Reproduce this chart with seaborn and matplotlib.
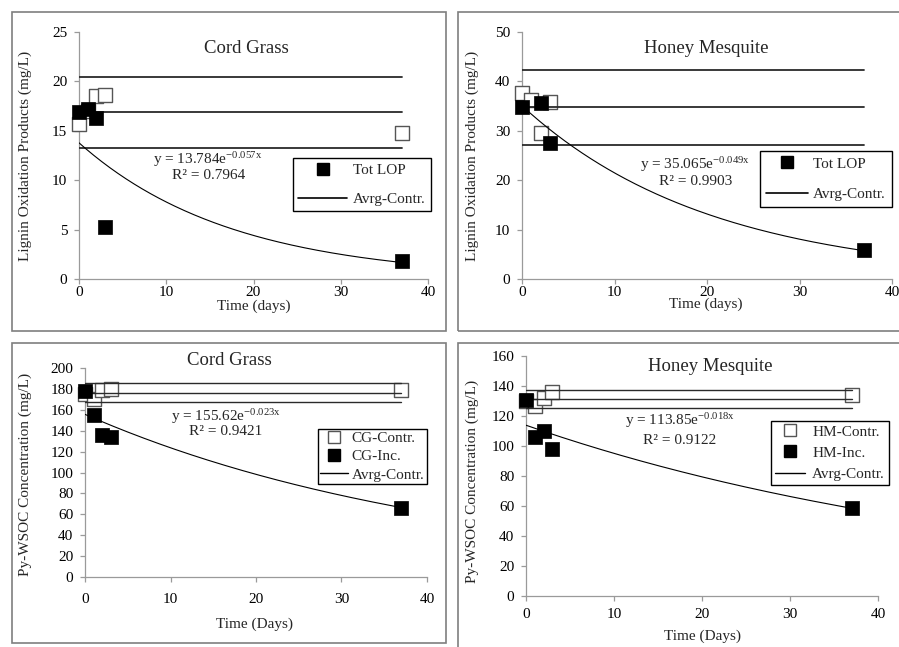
import numpy as np
import pandas as pd
import matplotlib
matplotlib.use("Agg")
import matplotlib.pyplot as plt
import seaborn as sns
from matplotlib.lines import Line2D
from matplotlib.patches import Rectangle

# ---------------- data ----------------
# Top-left: Cord Grass, lignin oxidation products
cg_lop_ctrl_t = [0, 1, 2, 3, 37]
cg_lop_ctrl = [15.7, 17.0, 18.5, 18.6, 14.8]
cg_lop_inc_t = [0, 1, 2, 3, 37]
cg_lop_inc = [16.9, 17.2, 16.3, 5.3, 1.8]
cg_lop_levels = [20.4, 16.9, 13.3]
cg_lop_fit_a, cg_lop_fit_b, cg_lop_r2 = 13.784, -0.057, 0.7964

# Top-right: Honey Mesquite, lignin oxidation products
hm_lop_ctrl_t = [0, 1, 2, 3]
hm_lop_ctrl = [37.6, 36.3, 29.5, 35.8]
hm_lop_inc_t = [0, 2, 3, 37]
hm_lop_inc = [34.8, 35.6, 27.5, 5.8]
hm_lop_levels = [42.3, 34.8, 27.1]
hm_lop_fit_a, hm_lop_fit_b, hm_lop_r2 = 35.065, -0.049, 0.9903

# Bottom-left: Cord Grass, Py-WSOC
cg_wsoc_t = [0, 1, 2, 3, 37]
cg_wsoc_ctrl = [175, 170, 179, 180, 179]
cg_wsoc_inc = [178, 155, 136, 134, 66]
cg_wsoc_levels = [185.5, 176.5, 167.5]
cg_wsoc_fit_a, cg_wsoc_fit_b, cg_wsoc_r2 = 155.62, -0.023, 0.9421

# Bottom-right: Honey Mesquite, Py-WSOC
hm_wsoc_t = [0, 1, 2, 3, 37]
hm_wsoc_ctrl = [130, 127, 132, 136, 134]
hm_wsoc_inc = [131, 106, 110, 98, 59]
hm_wsoc_levels = [137.5, 131.5, 125.5]
hm_wsoc_fit_a, hm_wsoc_fit_b, hm_wsoc_r2 = 113.85, -0.018, 0.9122

x_ticks = [0, 10, 20, 30, 40]

# ---------------- style ----------------
sns.set_theme(style="white")
plt.rcParams["font.family"] = ["Liberation Serif", "DejaVu Serif"]
plt.rcParams["mathtext.fontset"] = "custom"
plt.rcParams["mathtext.rm"] = "Liberation Serif"
plt.rcParams["mathtext.it"] = "Liberation Serif:italic"
plt.rcParams["mathtext.default"] = "regular"

W, H = 899, 647
fig = plt.figure(figsize=(W / 100, H / 100), dpi=100)
fig.patch.set_facecolor("white")

FS = 11
SPINE = "#9a9a9a"


def px_axes(l, r, t, b):
    return fig.add_axes([l / W, 1 - b / H, (r - l) / W, (b - t) / H])


def frame(l, t, r, b):
    fig.patches.append(Rectangle((l / W, 1 - b / H), (r - l) / W, (b - t) / H,
                                 transform=fig.transFigure, fill=False,
                                 edgecolor="#7f7f7f", linewidth=1.2, zorder=0))


def panel(ax, ctrl_t, ctrl, inc_t, inc, levels, fa, fb, r2, ymax, ystep,
          title, title_xy, eq_xy, r2_xy, xlabel, xlabel_xy, ylabel, ylabel_xy,
          xpad, hl_lw):
    # control (open squares)
    sns.scatterplot(x=ctrl_t, y=ctrl, marker="s", s=95, color="white",
                    edgecolor="#555555", linewidth=1.0, ax=ax, zorder=3,
                    clip_on=False)
    # average control lines
    span = [ctrl_t[0], 37]
    for lv in levels:
        sns.lineplot(x=span, y=[lv, lv], color="#2a2a2a", linewidth=hl_lw,
                     ax=ax, zorder=4)
    # exponential trend line (from the displayed equation)
    tf = np.linspace(0, 37, 200)
    sns.lineplot(x=tf, y=fa * np.exp(fb * tf), color="black", linewidth=0.8,
                 ax=ax, zorder=4)
    # incubated (filled squares)
    sns.scatterplot(x=inc_t, y=inc, marker="s", s=95, color="black",
                    edgecolor="black", linewidth=0.5, ax=ax, zorder=5,
                    clip_on=False)

    ax.set_xlim(0, 40)
    ax.set_ylim(0, ymax)
    ax.set_xticks(x_ticks)
    yt = np.arange(0, ymax + 0.1, ystep)
    ax.set_yticks(yt)
    ax.set_yticklabels([f"{int(v)}" for v in yt])
    for s in ["top", "right"]:
        ax.spines[s].set_visible(False)
    for s in ["left", "bottom"]:
        ax.spines[s].set_color(SPINE)
        ax.spines[s].set_linewidth(0.9)
    ax.tick_params(axis="both", which="major", direction="out", length=3.5,
                   width=0.9, color=SPINE, labelsize=FS, labelcolor="black",
                   left=True, bottom=True)
    ax.tick_params(axis="x", pad=xpad)
    ax.tick_params(axis="y", pad=5)
    ax.set_facecolor("none")

    ax.text(title_xy[0], title_xy[1], title, transform=ax.transAxes,
            ha="center", va="center", fontsize=13.5)
    ax.text(eq_xy[0], eq_xy[1], f"y = {fa}e$^{{{fb}x}}$",
            transform=ax.transAxes, ha="center", va="center", fontsize=FS)
    ax.text(r2_xy[0], r2_xy[1], f"R\u00b2 = {r2:.4f}", transform=ax.transAxes,
            ha="center", va="center", fontsize=FS)

    ax.set_xlabel(xlabel, fontsize=FS)
    ax.xaxis.set_label_coords(*xlabel_xy)
    ax.xaxis.label.set_va("center")
    ax.set_ylabel(ylabel, fontsize=FS)
    ax.yaxis.set_label_coords(*ylabel_xy)
    ax.yaxis.label.set_va("center")


def legend(ax, handles, x, y, ls, bp, hl, htp):
    leg = ax.legend(handles=handles, loc="upper left",
                    bbox_to_anchor=(x / W, 1 - y / H),
                    bbox_transform=fig.transFigure, borderaxespad=0,
                    frameon=True, fancybox=False, framealpha=1,
                    edgecolor="black", fontsize=FS, labelspacing=ls,
                    borderpad=bp, handlelength=hl, handletextpad=htp)
    leg.get_frame().set_linewidth(1.0)
    leg.set_zorder(10)
    return leg


def filled_handle(label):
    return Line2D([], [], marker="s", color="black", linestyle="none",
                  markersize=8, label=label)


def open_handle(label):
    return Line2D([], [], marker="s", markerfacecolor="white",
                  markeredgecolor="#555555", linestyle="none", markersize=8,
                  label=label)


def line_handle(label, lw=1.2):
    return Line2D([], [], color="black", linewidth=lw, label=label)


# panel frames
frame(12, 12, 446, 331)
frame(458, 12, 905, 331)
frame(12, 343, 446, 643)
frame(458, 343, 905, 652)

# ---- top-left ----
ax1 = px_axes(79, 428, 32, 279)
panel(ax1, cg_lop_ctrl_t, cg_lop_ctrl, cg_lop_inc_t, cg_lop_inc, cg_lop_levels,
      cg_lop_fit_a, cg_lop_fit_b, cg_lop_r2, 25, 5, "Cord Grass",
      (0.48, 0.935), (0.37, 0.482), (0.37, 0.421),
      "Time (days)", (0.501, -0.109),
      "Lignin Oxidation Products (mg/L)", (-0.155, 0.5), 1.5, 1.3)
legend(ax1, [filled_handle("Tot LOP"), line_handle("Avrg-Contr.")],
       293, 158, 1.0, 0.35, 3.2, 0.35)

# ---- top-right ----
ax2 = px_axes(522, 892, 32, 279)
panel(ax2, hm_lop_ctrl_t, hm_lop_ctrl, hm_lop_inc_t, hm_lop_inc, hm_lop_levels,
      hm_lop_fit_a, hm_lop_fit_b, hm_lop_r2, 50, 10, "Honey Mesquite",
      (0.497, 0.935), (0.468, 0.462), (0.468, 0.393),
      "Time (days)", (0.497, -0.101),
      "Lignin Oxidation Products (mg/L)", (-0.135, 0.5), 1.5, 1.3)
legend(ax2, [filled_handle("Tot LOP"), line_handle("Avrg-Contr.")],
       760, 151, 1.1, 0.4, 2.75, 0.3)

# ---- bottom-left ----
ax3 = px_axes(85, 427, 368, 577)
panel(ax3, cg_wsoc_t, cg_wsoc_ctrl, cg_wsoc_t, cg_wsoc_inc, cg_wsoc_levels,
      cg_wsoc_fit_a, cg_wsoc_fit_b, cg_wsoc_r2, 200, 20, "Cord Grass",
      (0.421, 1.038), (0.412, 0.767), (0.412, 0.695),
      "Time (Days)", (0.497, -0.225),
      "Py-WSOC Concentration (mg/L)", (-0.175, 0.493), 8.0, 1.0)
legend(ax3, [open_handle("CG-Contr."), filled_handle("CG-Inc."),
             line_handle("Avrg-Contr.", 1.0)],
       318, 429, 0.3, 0.15, 1.8, 0.25)

# ---- bottom-right ----
ax4 = px_axes(526, 878, 356, 596)
panel(ax4, hm_wsoc_t, hm_wsoc_ctrl, hm_wsoc_t, hm_wsoc_inc, hm_wsoc_levels,
      hm_wsoc_fit_a, hm_wsoc_fit_b, hm_wsoc_r2, 160, 20, "Honey Mesquite",
      (0.523, 0.955), (0.4375, 0.729), (0.4375, 0.65),
      "Time (Days)", (0.5, -0.167),
      "Py-WSOC Concentration (mg/L)", (-0.153, 0.479), 5.5, 1.0)
legend(ax4, [open_handle("HM-Contr."), filled_handle("HM-Inc."),
             line_handle("Avrg-Contr.", 1.0)],
       771, 421, 0.5, 0.25, 2.0, 0.45)

fig.savefig("out.png", dpi=100, facecolor="white")
